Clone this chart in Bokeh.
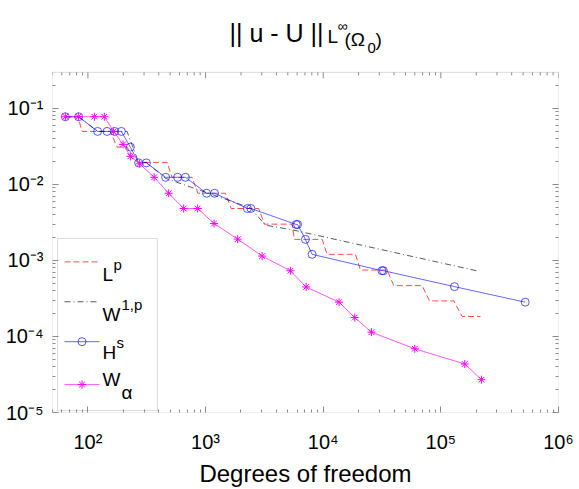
import math
from bokeh.plotting import figure
from bokeh.models import (Range1d, FixedTicker, LogAxis, CustomJSTickFormatter, Label,
                          BoxAnnotation, LinearScale)
from bokeh.embed import file_html
from bokeh.resources import INLINE

FONT = "Liberation Sans"
AX = "#8a8a8a"

# ---- data ----
x_tick_exps = [2, 3, 4, 5, 6]
y_tick_exps = [-5, -4, -3, -2, -1]
x_lim = [50, 1e6]
y_lim = [1e-5, 0.296]

lp_dof = [64.3, 82.4, 89.1, 155, 177, 215, 266, 471, 519, 768, 860, 1474, 1651, 2829,
          3164, 5441, 5691, 9790, 10800, 18790, 20730, 34960, 39790, 69370, 80060,
          128800, 151800, 217300]
lp_err = [0.0772, 0.0772, 0.0495, 0.0495, 0.0308, 0.0308, 0.0194, 0.0194, 0.01235,
          0.01235, 0.00762, 0.00762, 0.0048, 0.0048, 0.00299, 0.00299, 0.001885,
          0.001885, 0.0012, 0.0012, 0.000746, 0.000746, 0.000465, 0.000465, 0.000293,
          0.000293, 0.000183, 0.000183]

w1p_dof = [64.3, 83.4, 121, 215, 270, 314, 455, 2405, 3227, 5580, 200900]
w1p_err = [0.0772, 0.0772, 0.0495, 0.0495, 0.0194, 0.0194, 0.012, 0.0049, 0.0029,
           0.0025, 0.00073]

hs_dof = [64.3, 83.4, 121, 145.4, 168.8, 192.4, 229.5, 270, 314, 458, 578, 673.5, 1020,
          1193, 2268, 2429, 5900, 6050, 7060, 8050, 31570, 32500, 130600, 521200]
hs_err = [0.0772, 0.0772, 0.0495, 0.0495, 0.0495, 0.0495, 0.0308, 0.0191, 0.0191,
          0.01235, 0.01235, 0.01235, 0.00762, 0.00762, 0.0048, 0.0048, 0.00296, 0.00296,
          0.001885, 0.0012, 0.000731, 0.000731, 0.000451, 0.000282]

wa_dof = [64.3, 82.9, 113.4, 137.9, 165.4, 198.9, 229.5, 275.3, 365.7, 485.9, 651.3, 857,
          1181, 1876, 3024, 5264, 7157, 13630, 18540, 25700, 60000, 159700, 221500]
wa_err = [0.0772, 0.0772, 0.0772, 0.0772, 0.0495, 0.0334, 0.0233, 0.01857, 0.01235,
          0.00762, 0.0048, 0.0048, 0.00305, 0.0019, 0.001138, 0.000729, 0.000447,
          0.000282, 0.000177, 0.0001138, 6.88e-5, 4.34e-5, 2.70e-5]

x_label = "Degrees of freedom"

# ---- ticks ----
x_major = [10.0 ** e for e in x_tick_exps]
x_minor = [m * 10.0 ** e for e in range(1, 6) for m in range(2, 10)]
y_major = [10.0 ** e for e in y_tick_exps]
y_minor = [m * 10.0 ** e for e in range(-6, 0) for m in range(2, 10)
           if m * 10.0 ** e <= y_lim[1]]

fmt_code = """
const sup = {"-":"\u207b","0":"\u2070","1":"\u00b9","2":"\u00b2","3":"\u00b3",
             "4":"\u2074","5":"\u2075","6":"\u2076","7":"\u2077","8":"\u2078","9":"\u2079"};
const e = Math.round(Math.log10(tick));
return "10" + String(e).split("").map(c => sup[c]).join("");
"""

# ---- layout (pixels) ----
W, H = 579, 489
LEFT_B, RIGHT_B, TOP_B, BOT_B = 52, 21, 2, 76
FRAME_W = W - LEFT_B - RIGHT_B
FRAME_H = H - TOP_B - BOT_B          # frame also holds the title area
BOX_H = 341                          # height of the axes box inside the frame
px_per_dec = BOX_H / math.log10(y_lim[1] / y_lim[0])
y_frame_top = y_lim[0] * 10 ** (FRAME_H / px_per_dec)

p = figure(width=W, height=H, x_axis_type="log", y_axis_type="log",
           x_range=Range1d(*x_lim), y_range=Range1d(y_lim[0], y_frame_top),
           output_backend="svg", toolbar_location=None, title=None,
           min_border_left=LEFT_B, min_border_right=RIGHT_B, min_border_top=TOP_B,
           min_border_bottom=BOT_B,
           background_fill_color="white", border_fill_color="white")
p.grid.visible = False
p.outline_line_color = None


def style_axis(ax):
    ax.axis_line_color = None
    ax.major_tick_line_color = AX
    ax.minor_tick_line_color = AX
    ax.major_tick_in = 6
    ax.major_tick_out = 0
    ax.minor_tick_in = 3
    ax.minor_tick_out = 0
    ax.major_label_text_font = FONT
    ax.major_label_text_font_size = "20px"
    ax.major_label_text_color = "black"


xa = p.xaxis[0]
style_axis(xa)
xa.ticker = FixedTicker(ticks=x_major, minor_ticks=x_minor)
xa.formatter = CustomJSTickFormatter(code=fmt_code)
xa.major_label_standoff = 18
xa.axis_label = x_label
xa.axis_label_text_font = FONT
xa.axis_label_text_font_size = "24px"
xa.axis_label_text_font_style = "normal"
xa.axis_label_text_color = "black"
xa.axis_label_standoff = 4

ya = p.yaxis[0]
style_axis(ya)
ya.ticker = FixedTicker(ticks=y_major, minor_ticks=y_minor)
ya.formatter = CustomJSTickFormatter(code=fmt_code)
ya.major_label_standoff = 9

ra = LogAxis(ticker=FixedTicker(ticks=y_major, minor_ticks=y_minor),
             formatter=CustomJSTickFormatter(code="return '';"))
style_axis(ra)
ra.major_label_text_font_size = "0px"
ra.major_label_standoff = 0
p.add_layout(ra, "right")

# axes box
p.add_layout(BoxAnnotation(left=x_lim[0], right=x_lim[1], bottom=y_lim[0], top=y_lim[1],
                           fill_color=None, line_color=AX, line_width=1, level="underlay"))

# inward ticks along the top of the box
maj_len = 10 ** (-6 / px_per_dec)
min_len = 10 ** (-3 / px_per_dec)
top_minor = [v for v in x_minor if x_lim[0] <= v <= x_lim[1]]
p.segment(x0=x_major, y0=[y_lim[1]] * len(x_major), x1=x_major,
          y1=[y_lim[1] * maj_len] * len(x_major), line_color=AX, line_width=1)
p.segment(x0=top_minor, y0=[y_lim[1]] * len(top_minor), x1=top_minor,
          y1=[y_lim[1] * min_len] * len(top_minor), line_color=AX, line_width=1)

# ---- series ----
p.line(lp_dof, lp_err, line_color="red", line_dash="6 3", line_width=1, line_alpha=0.7)
p.line(w1p_dof, w1p_err, line_color="black", line_dash="6 3 1 3", line_width=1, line_alpha=0.65)
p.line(hs_dof, hs_err, line_color="blue", line_width=1, line_alpha=0.6)
p.scatter(hs_dof, hs_err, marker="circle", size=8, fill_color=None, line_color="blue",
          line_alpha=0.65)
p.line(wa_dof, wa_err, line_color="magenta", line_width=1, line_alpha=0.65)
p.scatter(wa_dof, wa_err, marker="asterisk", size=8, line_color="magenta", line_width=1)

# ---- legend (drawn in pixel space of the frame) ----
p.extra_x_ranges = {"lg": Range1d(0, FRAME_W)}
p.extra_y_ranges = {"lg": Range1d(0, FRAME_H)}
p.extra_x_scales = {"lg": LinearScale()}
p.extra_y_scales = {"lg": LinearScale()}

p.add_layout(BoxAnnotation(left=5, right=105, bottom=2, top=174,
                           left_units="screen", right_units="screen",
                           top_units="screen", bottom_units="screen",
                           fill_color="white", fill_alpha=1.0, line_color=AX,
                           line_width=1, level="underlay"))

lg = dict(x_range_name="lg", y_range_name="lg")
p.line([12, 47], [151, 151], line_color="red", line_dash="6 3", line_alpha=0.7, **lg)
p.line([12, 47], [111, 111], line_color="black", line_dash="6 3 1 3", line_alpha=0.65, **lg)
p.line([12, 47], [71, 71], line_color="blue", line_alpha=0.6, **lg)
p.scatter([29.5], [71], marker="circle", size=8, fill_color=None, line_color="blue",
          line_alpha=0.65, **lg)
p.line([12, 47], [28, 28], line_color="magenta", line_alpha=0.65, **lg)
p.scatter([29.5], [28], marker="asterisk", size=8, line_color="magenta", **lg)


def lab(text, x, y, size, align="left"):
    p.add_layout(Label(x=x, y=y, x_units="screen", y_units="screen", text=text,
                       text_font=FONT, text_font_size=size, text_color="black",
                       text_align=align, text_baseline="alphabetic"))


lab("L", 50, 138, "19px")
lab("p", 61, 148, "15px")
lab("W", 50, 98, "19px")
lab("1,p", 69, 108, "15px")
lab("H", 50, 60, "19px")
lab("s", 64, 70, "15px")
lab("W", 50, 33, "19px")
lab("\u03b1", 69, 20, "19px")

# ---- title (inside the frame, above the axes box) ----
lab("|| u - U ||", 271, 380, "25px", align="right")
lab("L", 275, 376, "19px")
lab("\u221e", 285, 387, "14px")
lab("(\u03a9", 292, 373, "19px")
lab("0", 315, 365, "15px")
lab(")", 323, 373, "19px")

open("out.html", "w").write(file_html(p, INLINE))
